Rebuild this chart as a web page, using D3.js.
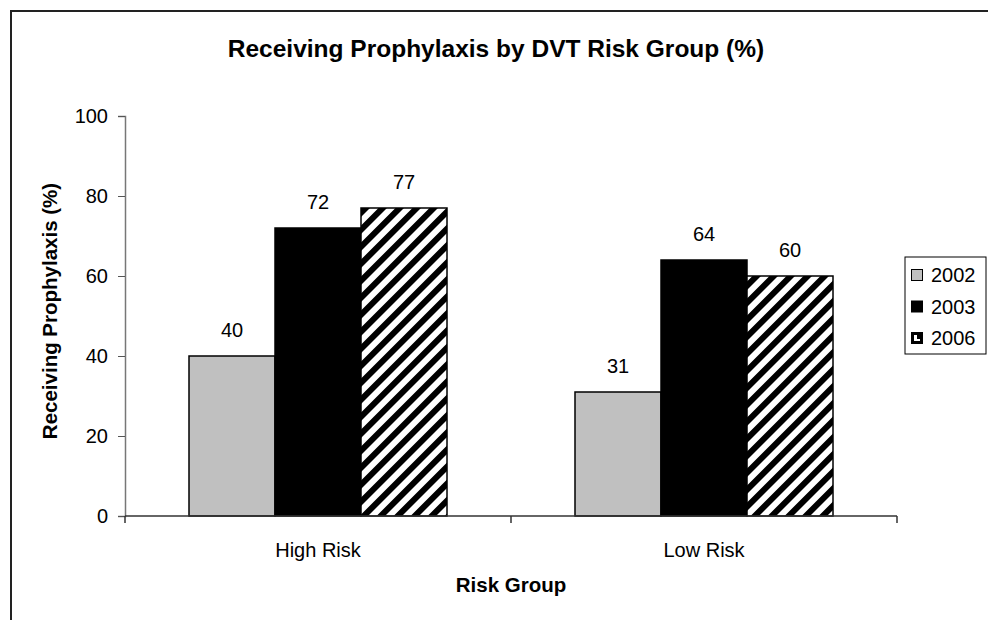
<!DOCTYPE html>
<html><head><meta charset="utf-8">
<script src="https://cdn.jsdelivr.net/npm/d3@7"></script>
<style>body{margin:0;background:#fff}svg{display:block;font-family:"Liberation Sans",Arial,sans-serif}</style>
</head><body><svg id="c" width="988" height="620"></svg>
<script>
const categories = ["High Risk", "Low Risk"];
const seriesNames = ["2002", "2003", "2006"];
const values2002 = [40, 31];
const values2003 = [72, 64];
const values2006 = [77, 60];
const yTicks = [0, 20, 40, 60, 80, 100];

(function(){
const svg = d3.select("#c");
const defs = svg.append("defs");
const pat = defs.append("pattern").attr("id","stripe").attr("patternUnits","userSpaceOnUse")
  .attr("width",17).attr("height",17);
pat.append("rect").attr("width",17).attr("height",17).attr("fill","#fff");
pat.append("path").attr("d","M0,17 L0,8.5 L8.5,0 L17,0 Z M8.5,17 L17,8.5 L17,17 Z").attr("fill","#000");

// outer border
svg.append("path").attr("d","M11,620 L11,11 L988,11").attr("fill","none").attr("stroke","#222").attr("stroke-width",2);

const pLeft=125, pRight=897, pTop=116, pBottom=516;
const x0 = d3.scaleBand().domain(categories).range([pLeft,pRight]).paddingInner(0).paddingOuter(0);
const x1 = d3.scaleBand().domain(seriesNames).range([64, x0.bandwidth()-64]);
const y = d3.scaleLinear().domain([0,100]).range([pBottom,pTop]);

svg.append("text").attr("x",496).attr("y",57).attr("text-anchor","middle")
  .attr("font-weight","bold").attr("font-size",24.5).text("Receiving Prophylaxis by DVT Risk Group (%)");

const fills = {"2002":"#c0c0c0","2003":"#000","2006":"url(#stripe)"};
const data = [];
categories.forEach((c,i)=>{
  data.push({c, s:"2002", v:values2002[i]});
  data.push({c, s:"2003", v:values2003[i]});
  data.push({c, s:"2006", v:values2006[i]});
});
svg.append("g").selectAll("rect").data(data).join("rect")
  .attr("x",d=>x0(d.c)+x1(d.s)).attr("width",x1.bandwidth())
  .attr("y",d=>y(d.v)).attr("height",d=>pBottom-y(d.v))
  .attr("fill",d=>fills[d.s]).attr("stroke","#000").attr("stroke-width",1.5);

svg.append("g").selectAll("text").data(data).join("text")
  .attr("x",d=>x0(d.c)+x1(d.s)+x1.bandwidth()/2).attr("y",d=>y(d.v)-19)
  .attr("text-anchor","middle").attr("font-size",20).text(d=>d.v);

// y axis
const ya = svg.append("g").attr("transform",`translate(${pLeft},0)`)
  .call(d3.axisLeft(y).tickValues(yTicks).tickSize(7).tickPadding(10));
ya.select(".domain").attr("stroke","#777").attr("stroke-width",1.5);
ya.selectAll(".tick line").attr("stroke","#555");
ya.selectAll("text").attr("font-size",20).attr("font-family","Liberation Sans, Arial").attr("fill","#000");

// x axis
const xa = svg.append("g").attr("transform",`translate(0,${pBottom})`)
  .call(d3.axisBottom(x0).tickSize(0).tickPadding(0));
xa.select(".domain").remove();
xa.selectAll("text").attr("font-size",20).attr("font-family","Liberation Sans, Arial").attr("fill","#000").attr("dy",null).attr("y",41);
svg.append("line").attr("x1",pLeft).attr("x2",pRight).attr("y1",pBottom).attr("y2",pBottom).attr("stroke","#333").attr("stroke-width",1.5);
const bounds = [pLeft, ...categories.map(c=>x0(c)+x0.bandwidth())];
svg.append("g").selectAll("line").data(bounds).join("line")
  .attr("x1",d=>d).attr("x2",d=>d).attr("y1",pBottom).attr("y2",pBottom+7).attr("stroke","#333").attr("stroke-width",1.5);

svg.append("text").attr("x",511).attr("y",592).attr("text-anchor","middle")
  .attr("font-weight","bold").attr("font-size",20.5).text("Risk Group");
svg.append("text").attr("transform","translate(57,311) rotate(-90)").attr("text-anchor","middle")
  .attr("font-weight","bold").attr("font-size",20.5).text("Receiving Prophylaxis (%)");

// legend
const lg = svg.append("g");
lg.append("rect").attr("x",905).attr("y",257).attr("width",81).attr("height",97).attr("fill","#fff").attr("stroke","#000").attr("stroke-width",1);
const ly = d3.scalePoint().domain(seriesNames).range([275,338]);
seriesNames.forEach(s=>{
  lg.append("rect").attr("x",911.5).attr("y",ly(s)-5.5).attr("width",11).attr("height",11)
    .attr("fill",s==="2006"?"#000":fills[s]).attr("stroke","#000").attr("stroke-width",1);
  if(s==="2006"){
    lg.append("path").attr("d",`M914,${ly(s)-3} L917,${ly(s)-3} L917,${ly(s)+1} L920,${ly(s)+1} L920,${ly(s)+3} L914,${ly(s)+3} Z`)
      .attr("fill","#fff");
  }
  lg.append("text").attr("x",931).attr("y",ly(s)+7).attr("font-size",20).text(s);
});
})();
</script></body></html>
